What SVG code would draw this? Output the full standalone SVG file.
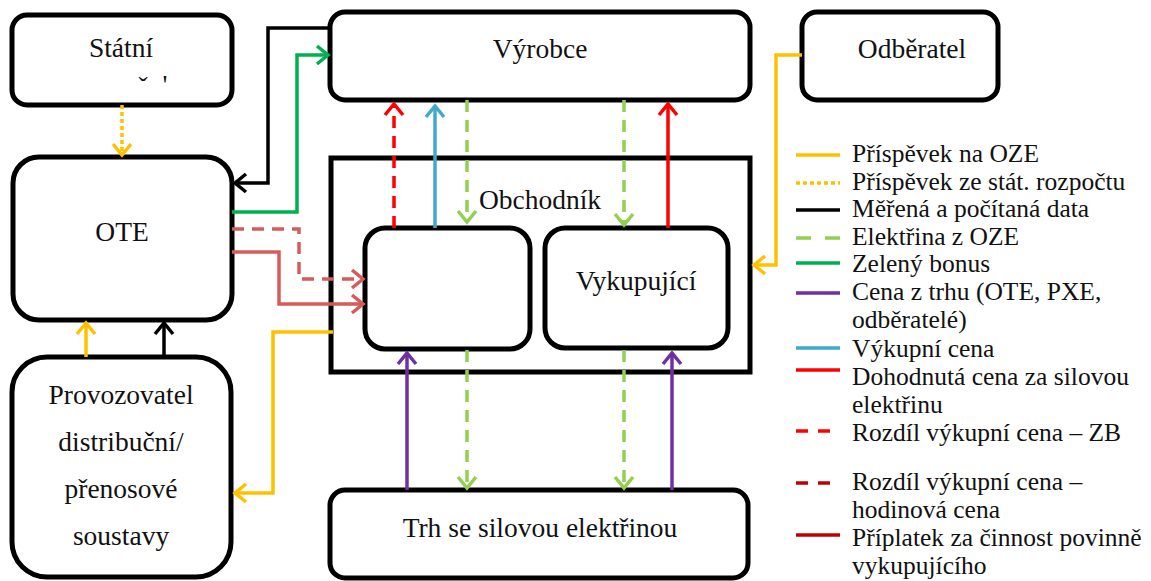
<svg xmlns="http://www.w3.org/2000/svg" width="1151" height="581" viewBox="0 0 1151 581">
<style>
.box{fill:#fff;stroke:#000;stroke-width:5}
.t{font-family:"Liberation Serif","DejaVu Serif",serif;font-size:27.5px;fill:#111}
.lg{font-family:"Liberation Serif","DejaVu Serif",serif;font-size:25.5px;fill:#111}
.c{fill:none;stroke-width:3.5}
.yel{stroke:#ffc000}
.blk{stroke:#000}
.grn{stroke:#00b050}
.lgr{stroke:#92d050}
.blu{stroke:#41a9c9}
.pur{stroke:#7030a0}
.red{stroke:#ff0000}
.sal{stroke:#d65b5b}
.drd{stroke:#c00000}
.dash{stroke-dasharray:12 8}
.dot{stroke-dasharray:4 3}
</style>
<defs>
<marker id="mY" markerUnits="userSpaceOnUse" markerWidth="30" markerHeight="30" viewBox="-15 -15 30 30" refX="0" refY="0" orient="auto"><path d="M-11 -9 L0 0 L-11 9" fill="none" stroke="#ffc000" stroke-width="3.5"/></marker>
<marker id="mK" markerUnits="userSpaceOnUse" markerWidth="30" markerHeight="30" viewBox="-15 -15 30 30" refX="0" refY="0" orient="auto"><path d="M-11 -9 L0 0 L-11 9" fill="none" stroke="#000" stroke-width="3.5"/></marker>
<marker id="mG" markerUnits="userSpaceOnUse" markerWidth="30" markerHeight="30" viewBox="-15 -15 30 30" refX="0" refY="0" orient="auto"><path d="M-11 -9 L0 0 L-11 9" fill="none" stroke="#00b050" stroke-width="3.5"/></marker>
<marker id="mL" markerUnits="userSpaceOnUse" markerWidth="30" markerHeight="30" viewBox="-15 -15 30 30" refX="0" refY="0" orient="auto"><path d="M-11 -9 L0 0 L-11 9" fill="none" stroke="#92d050" stroke-width="3.5"/></marker>
<marker id="mB" markerUnits="userSpaceOnUse" markerWidth="30" markerHeight="30" viewBox="-15 -15 30 30" refX="0" refY="0" orient="auto"><path d="M-11 -9 L0 0 L-11 9" fill="none" stroke="#41a9c9" stroke-width="3.5"/></marker>
<marker id="mP" markerUnits="userSpaceOnUse" markerWidth="30" markerHeight="30" viewBox="-15 -15 30 30" refX="0" refY="0" orient="auto"><path d="M-11 -9 L0 0 L-11 9" fill="none" stroke="#7030a0" stroke-width="3.5"/></marker>
<marker id="mR" markerUnits="userSpaceOnUse" markerWidth="30" markerHeight="30" viewBox="-15 -15 30 30" refX="0" refY="0" orient="auto"><path d="M-11 -9 L0 0 L-11 9" fill="none" stroke="#ff0000" stroke-width="3.5"/></marker>
<marker id="mS" markerUnits="userSpaceOnUse" markerWidth="30" markerHeight="30" viewBox="-15 -15 30 30" refX="0" refY="0" orient="auto"><path d="M-11 -9 L0 0 L-11 9" fill="none" stroke="#d65b5b" stroke-width="3.5"/></marker>
</defs>
<rect width="1151" height="581" fill="#fff"/>

<g id="statni">
<rect class="box" x="12" y="15" width="220" height="90" rx="15"/>
<text class="t" x="121" y="57" text-anchor="middle">Státní</text>
<text class="t" x="143" y="96" text-anchor="middle" font-size="16">ˇ</text>
<text class="t" x="165" y="94" text-anchor="middle" font-size="10">'</text>
</g>
<g id="ote">
<rect class="box" x="13" y="157" width="219" height="163" rx="26"/>
<text class="t" x="122" y="241" text-anchor="middle">OTE</text>
</g>
<g id="provozovatel">
<rect class="box" x="12" y="357" width="219" height="220" rx="35"/>
<text class="t" x="121" y="404" text-anchor="middle">Provozovatel</text>
<text class="t" x="121" y="451" text-anchor="middle">distribuční/</text>
<text class="t" x="121" y="498" text-anchor="middle">přenosové</text>
<text class="t" x="121" y="545" text-anchor="middle">soustavy</text>
</g>
<g id="vyrobce">
<rect class="box" x="330" y="12" width="420" height="88" rx="15"/>
<text class="t" x="540" y="58" text-anchor="middle">Výrobce</text>
</g>
<g id="odberatel">
<rect class="box" x="802" y="12" width="196" height="88" rx="15"/>
<text class="t" x="912" y="58" text-anchor="middle">Odběratel</text>
</g>
<g id="obchodnik">
<rect x="331" y="158" width="419" height="214" fill="#fff" stroke="#000" stroke-width="5"/>
<text class="t" x="540" y="209" text-anchor="middle">Obchodník</text>
</g>
<g id="obchodnik-box">
<rect class="box" x="365" y="228" width="165" height="121" rx="20"/>
</g>
<g id="vykupujici">
<rect class="box" x="545" y="228" width="183" height="120" rx="20"/>
<text class="t" x="636" y="290" text-anchor="middle">Vykupující</text>
</g>
<g id="trh">
<rect class="box" x="330" y="490" width="418" height="88" rx="15"/>
<text class="t" x="540" y="537" text-anchor="middle">Trh se silovou elektřinou</text>
</g>

<g id="connectors">
<path class="c yel dot" d="M122 105 V155" marker-end="url(#mY)"/>
<path class="c blk" d="M330 28 H268 V183 H235" marker-end="url(#mK)"/>
<path class="c grn" d="M232 212 H297 V55 H328" marker-end="url(#mG)"/>
<path class="c sal dash" d="M232 229 H299 V279 H363" marker-end="url(#mS)"/>
<path class="c sal" d="M232 252 H279 V304 H363" marker-end="url(#mS)"/>
<path class="c yel" d="M86 357 V323" marker-end="url(#mY)"/>
<path class="c blk" d="M164 357 V323" marker-end="url(#mK)"/>
<path class="c yel" d="M333 332 H273 V493 H235" marker-end="url(#mY)"/>
<path class="c yel" d="M802 55 H776 V265 H754" marker-end="url(#mY)"/>
<path class="c red dash" d="M394 228 V104" marker-end="url(#mR)"/>
<path class="c blu" d="M435 228 V106" marker-end="url(#mB)"/>
<path class="c lgr dash" d="M467 100 V222" marker-end="url(#mL)"/>
<path class="c lgr dash" d="M624 100 V225" marker-end="url(#mL)"/>
<path class="c red" d="M668 228 V104" marker-end="url(#mR)"/>
<path class="c pur" d="M407 490 V353" marker-end="url(#mP)"/>
<path class="c lgr dash" d="M467 350 V488" marker-end="url(#mL)"/>
<path class="c lgr dash" d="M624 350 V488" marker-end="url(#mL)"/>
<path class="c pur" d="M672 490 V353" marker-end="url(#mP)"/>
</g>

<g id="legend">
<path class="c yel" d="M796 155 H840"/>
<path class="c yel" d="M796 183 H840" stroke-dasharray="4 3"/>
<path class="c blk" d="M796 210 H840"/>
<path class="c lgr" d="M796 238 H840" stroke-dasharray="15 14"/>
<path class="c grn" d="M796 263 H840"/>
<path class="c pur" d="M796 293 H840"/>
<path class="c blu" d="M796 348 H840"/>
<path class="c red" d="M796 370 H840"/>
<path class="c red" d="M796 431 H840" stroke-dasharray="12 10"/>
<path class="c drd" d="M796 483 H840" stroke-dasharray="12 10"/>
<path class="c drd" d="M796 535 H840"/>
<text class="lg" x="852" y="162">Příspěvek na OZE</text>
<text class="lg" x="852" y="190">Příspěvek ze stát. rozpočtu</text>
<text class="lg" x="852" y="217">Měřená a počítaná data</text>
<text class="lg" x="852" y="245">Elektřina z OZE</text>
<text class="lg" x="852" y="272">Zelený bonus</text>
<text class="lg" x="852" y="300">Cena z trhu (OTE, PXE,</text>
<text class="lg" x="852" y="328">odběratelé)</text>
<text class="lg" x="852" y="357">Výkupní cena</text>
<text class="lg" x="852" y="385">Dohodnutá cena za silovou</text>
<text class="lg" x="852" y="413">elektřinu</text>
<text class="lg" x="852" y="441">Rozdíl výkupní cena – ZB</text>
<text class="lg" x="852" y="490">Rozdíl výkupní cena –</text>
<text class="lg" x="852" y="518">hodinová cena</text>
<text class="lg" x="852" y="546">Příplatek za činnost povinně</text>
<text class="lg" x="852" y="574">vykupujícího</text>
</g>
</svg>
